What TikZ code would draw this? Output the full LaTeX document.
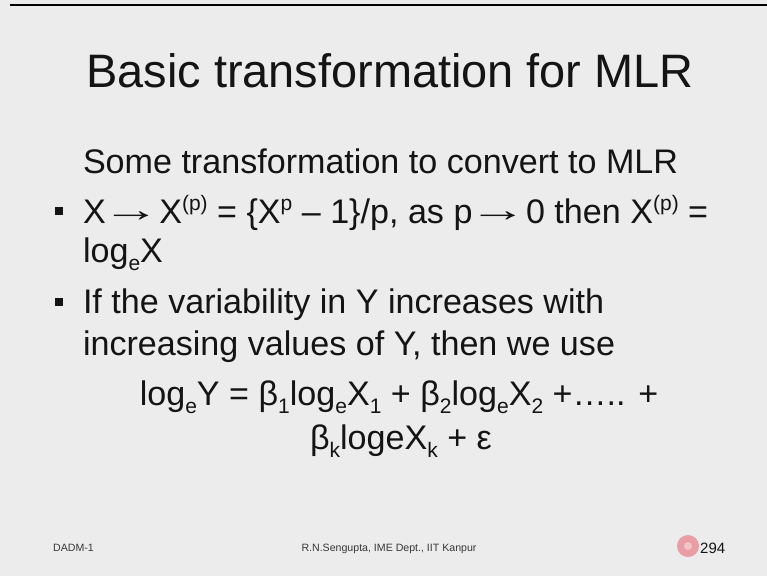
\documentclass[tikz,border=0pt]{standalone}
\usepackage{fontspec}
\setmainfont{Liberation Sans}
\definecolor{bgc}{RGB}{236,236,236}
\definecolor{txt}{RGB}{20,20,20}
\definecolor{pinkc}{RGB}{232,158,164}
\definecolor{pinkl}{RGB}{242,196,200}
\newcommand\sups[1]{\raisebox{0.36em}{\fontsize{21}{21}\selectfont #1}}
\newcommand\subs[1]{\raisebox{-0.24em}{\fontsize{21}{21}\selectfont #1}}
\newcommand\arr{\kern-3.7pt\raisebox{0.04em}{\scalebox{1.7}[1]{→}}\kern-0.7pt}
\tikzset{
  txtnode/.style={inner sep=0pt, outer sep=0pt, text=txt, anchor=base west},
  titlenode/.style={inner sep=0pt, text=txt, anchor=base, font=\fontsize{46.9}{50}\selectfont},
  bodytxt/.style={txtnode, font=\fontsize{34.1}{40}\selectfont},
  eqtxt/.style={inner sep=0pt, text=txt, anchor=base, font=\fontsize{34.1}{40}\selectfont},
  foottxt/.style={inner sep=0pt, text=txt!85, font=\fontsize{10.6}{12}\selectfont},
  bulletsq/.style={fill=txt, draw=none, minimum size=8pt, inner sep=0pt}
}
\begin{document}
\begin{tikzpicture}[x=1pt,y=-1pt]
\fill[bgc] (0,0) rectangle (767,576);
\useasboundingbox (0,0) rectangle (767,576);
\fill[black] (10,3.5) rectangle (767,5.5);
\node[titlenode] (title) at (390,87) {Basic transformation for MLR};
\node[bodytxt] (intro) at (83,173) {Some transformation to convert to MLR};
\node[bulletsq] (b1) at (59,211) {};
\node[bodytxt] (l1) at (83,223) {X\arr X\sups{(p)} = \{X\sups{p} – 1\}/p, as p\arr 0 then X\sups{(p)} =};
\node[bodytxt] (l2) at (83,262) {log\subs{e}X};
\node[bulletsq] (b2) at (59,302) {};
\node[bodytxt] (l3) at (83,313) {If the variability in Y increases with};
\node[bodytxt] (l4) at (83,355) {increasing values of Y, then we use};
\node[eqtxt] (e1) at (399,405) {log\subs{e}Y = β\subs{1}log\subs{e}X\subs{1} + β\subs{2}log\subs{e}X\subs{2} +….. +};
\node[eqtxt] (e2) at (401,449) {β\subs{k}logeX\subs{k} + ε};
\node[foottxt, anchor=base west] (f1) at (53,551) {DADM-1};
\node[foottxt, anchor=base] (f2) at (389,551) {R.N.Sengupta, IME Dept., IIT Kanpur};
\node[circle, fill=pinkc, minimum size=22pt, inner sep=0pt] (ptr) at (688,546) {};
\fill[pinkl] (ptr.center) circle (4);
\node[inner sep=0pt, text=txt, anchor=base west, font=\fontsize{15}{16}\selectfont] (pg) at (700,553) {294};
\end{tikzpicture}
\end{document}
